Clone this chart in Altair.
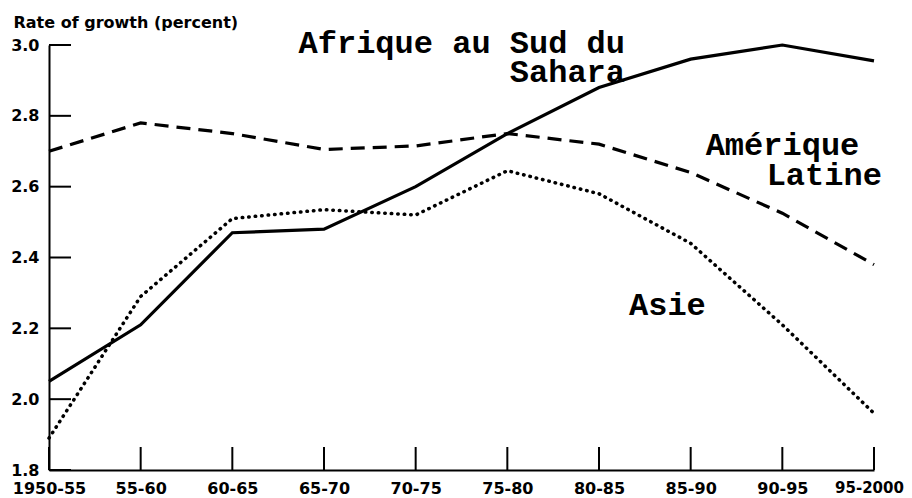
import altair as alt
import pandas as pd

periods = ["1950-55", "55-60", "60-65", "65-70", "70-75",
           "75-80", "80-85", "85-90", "90-95", "95-2000"]
afrique = [2.05, 2.21, 2.47, 2.48, 2.60, 2.75, 2.88, 2.96, 3.00, 2.955]
amerique = [2.70, 2.78, 2.75, 2.705, 2.715, 2.75, 2.72, 2.64, 2.525, 2.38]
asie = [1.89, 2.29, 2.51, 2.535, 2.52, 2.645, 2.58, 2.44, 2.21, 1.96]
y_ticks = [1.8, 2.0, 2.2, 2.4, 2.6, 2.8, 3.0]

label_text = ["Afrique au Sud du", "Sahara", "Amérique", "Latine", "Asie"]
label_period = ["80-85", "80-85", "85-90", "85-90", "80-85"]
label_value = [2.977, 2.896, 2.689, 2.605, 2.237]

W, H = 825, 425

idx = list(range(len(periods)))
last = len(periods) - 1
df = pd.DataFrame({"i": idx, "period": periods, "afrique": afrique,
                   "amerique": amerique, "asie": asie})
ticks_df = pd.DataFrame({"v": y_ticks})
xt_df = pd.DataFrame({"i": idx})

names_js = "[" + ",".join("'" + p + "'" for p in periods) + "]"

xscale = alt.Scale(domain=[0, last], nice=False, zero=False)
yscale = alt.Scale(domain=[1.8, 3.0], nice=False, zero=False)

x_axis = alt.Axis(title=None, values=idx, labelExpr=names_js + "[datum.value]",
                  labelAngle=0, tickSize=0, labelPadding=10,
                  domainColor="black", domainWidth=2, grid=False,
                  labelFont="DejaVu Sans", labelFontWeight="bold",
                  labelFontSize={"condition": {"test": f"datum.value == {last}", "value": 15},
                                 "value": 16},
                  labelOffset={"condition": {"test": f"datum.value == {last}", "value": -5},
                               "value": 0},
                  labelColor="black", labelFlush=False, labelOverlap=False)

y_axis = alt.Axis(values=y_ticks, format=".1f", tickSize=0, labelPadding=10,
                  domainColor="black", domainWidth=2, grid=False,
                  labelFont="DejaVu Sans", labelFontWeight="bold",
                  labelFontSize=16, labelColor="black", labelFlush=False,
                  title="Rate of growth (percent)", titleAngle=0,
                  titleAlign="left", titleBaseline="alphabetic",
                  titleX=-36, titleY=-18, titleFont="DejaVu Sans",
                  titleFontWeight="bold", titleFontSize=16, titleColor="black")

base = alt.Chart(df)

line_af = base.mark_line(color="black", strokeWidth=3.2).encode(
    x=alt.X("i:Q", scale=xscale, axis=x_axis),
    y=alt.Y("afrique:Q", scale=yscale, axis=y_axis))
line_am = base.mark_line(color="black", strokeWidth=3.2, strokeDash=[14, 8]).encode(
    x=alt.X("i:Q", scale=xscale), y=alt.Y("amerique:Q", scale=yscale))
line_as = base.mark_line(color="black", strokeWidth=3.5, strokeDash=[0.5, 6],
                         strokeCap="round").encode(
    x=alt.X("i:Q", scale=xscale), y=alt.Y("asie:Q", scale=yscale))

ytick_rules = alt.Chart(ticks_df).mark_rule(color="black", strokeWidth=2).encode(
    y=alt.Y("v:Q", scale=yscale), x=alt.value(0), x2=alt.value(22))
xtick_rules = alt.Chart(xt_df).mark_rule(color="black", strokeWidth=2).encode(
    x=alt.X("i:Q", scale=xscale), y=alt.value(H), y2=alt.value(H - 23))

label_styles = [("right", 26), ("right", 26), ("left", 15), ("left", 76), ("left", 30)]
label_layers = []
for txt, per, val, (al, dx) in zip(label_text, label_period, label_value, label_styles):
    ldf = pd.DataFrame({"i": [periods.index(per)], "v": [val], "t": [txt]})
    label_layers.append(
        alt.Chart(ldf).mark_text(font="Liberation Mono", fontWeight="bold",
                                 fontSize=32, align=al, baseline="alphabetic",
                                 dx=dx, color="black").encode(
            x=alt.X("i:Q", scale=xscale),
            y=alt.Y("v:Q", scale=yscale), text="t:N"))

chart = alt.layer(ytick_rules, xtick_rules, line_af, line_am, line_as,
                  *label_layers).properties(
    width=W, height=H,
    autosize=alt.AutoSizeParams(type="none"),
    padding={"left": 41, "top": 37, "right": 30, "bottom": 26},
    background="white",
).configure_view(stroke=None)

chart.save("out.html", embed_options={"renderer": "svg", "actions": False})
